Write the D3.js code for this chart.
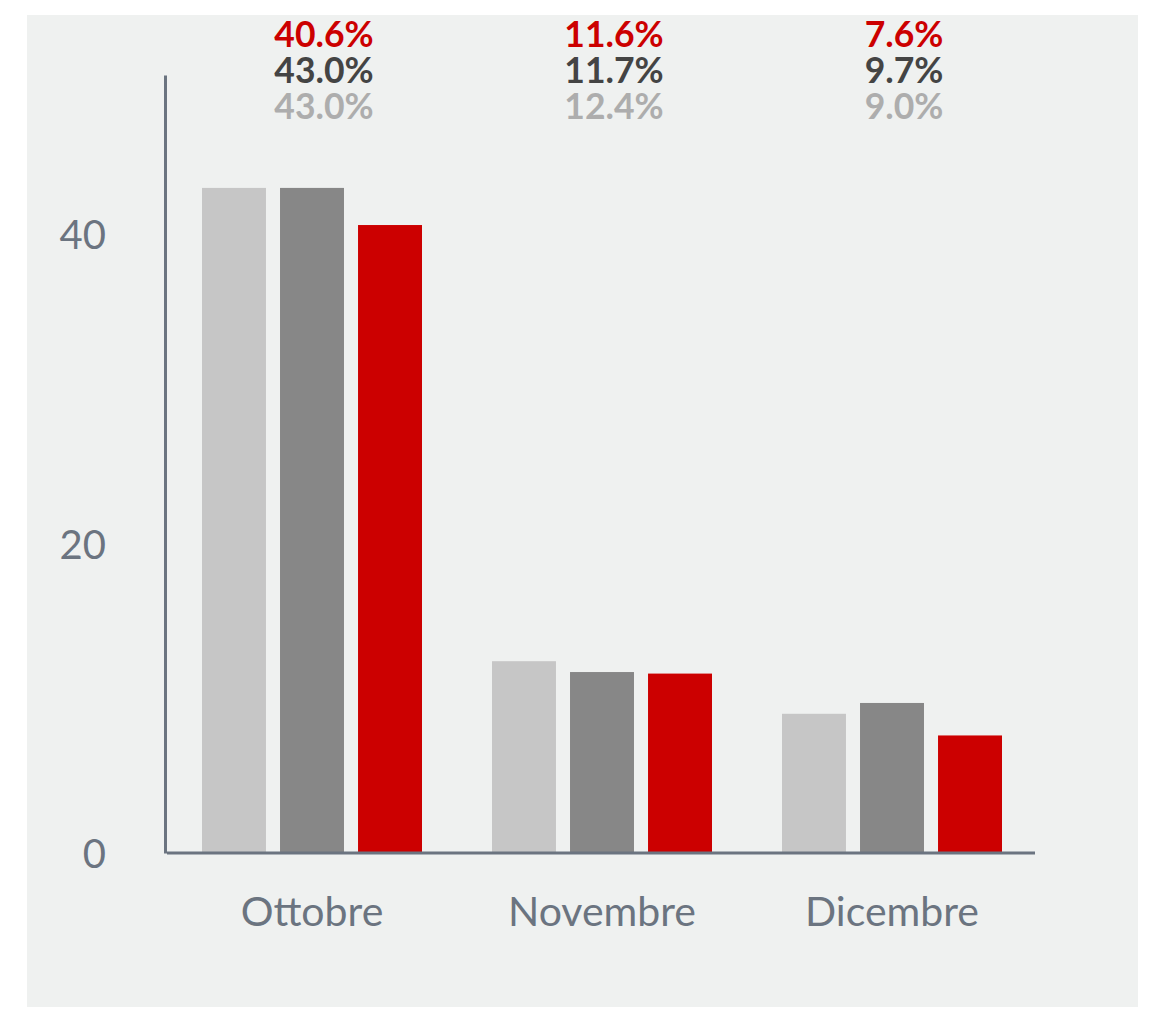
<!DOCTYPE html>
<html>
<head>
<meta charset="utf-8">
<script src="https://cdn.jsdelivr.net/npm/d3@7"></script>
<style>
  body { margin: 0; background: #fff; }
  svg { display: block; font-family: Lato, "Open Sans", sans-serif; }
</style>
</head>
<body>
<div class="canvas"></div>
<script>
// DATA
const months = ["Ottobre", "Novembre", "Dicembre"];
const seriesKeys = ["light", "dark", "red"];
const lightValues = [43.0, 12.4, 9.0];
const darkValues = [43.0, 11.7, 9.7];
const redValues = [40.6, 11.6, 7.6];
const yTicks = [0, 20, 40];

const barColor = { light: "#c6c6c6", dark: "#878787", red: "#cc0000" };
const labelColor = { light: "#adadad", dark: "#444444", red: "#cc0000" };

const rows = months.map((m, i) => ({
  month: m,
  light: lightValues[i],
  dark: darkValues[i],
  red: redValues[i]
}));

const svg = d3.select(".canvas")
  .append("svg")
    .attr("width", 1157)
    .attr("height", 1009);

// PANEL BACKGROUND
svg.append("rect")
  .attr("x", 27)
  .attr("y", 15)
  .attr("width", 1111)
  .attr("height", 992)
  .attr("fill", "#eff1f0");

// SCALES
const x0 = d3.scaleBand()
  .domain(months)
  .range([167, 1037])
  .paddingInner(0.2414)
  .paddingOuter(0.1207);

const x1 = d3.scaleBand()
  .domain(seriesKeys)
  .range([0, x0.bandwidth()])
  .paddingInner(0.18);

const y = d3.scaleLinear()
  .domain([0, 50.3])
  .range([853, 75]);

// BARS - one group per month
const groups = svg.selectAll("g.group")
  .data(rows)
  .enter()
    .append("g")
    .attr("class", "group")
    .attr("transform", d => `translate(${x0(d.month)}, 0)`);

groups.selectAll("rect")
  .data(d => seriesKeys.map(k => ({ key: k, value: d[k] })))
  .enter()
    .append("rect")
    .attr("x", d => x1(d.key))
    .attr("y", d => y(d.value))
    .attr("width", x1.bandwidth())
    .attr("height", d => y(0) - y(d.value))
    .attr("fill", d => barColor[d.key]);

// VALUE LABELS AT THE TOP - red, dark, light
const labelOrder = ["red", "dark", "light"];
groups.selectAll("text.val")
  .data(d => labelOrder.map((k, i) => ({ key: k, value: d[k], row: i })))
  .enter()
    .append("text")
    .attr("class", "val")
    .attr("x", x0.bandwidth() / 2 + 12)
    .attr("y", d => 47 + d.row * 36)
    .attr("text-anchor", "middle")
    .attr("fill", d => labelColor[d.key])
    .style("font-size", "35.5px")
    .style("font-weight", 700)
    .text(d => d.value.toFixed(1) + "%");

// Y AXIS
const yAxis = d3.axisLeft(y)
  .tickValues(yTicks)
  .tickSize(0)
  .tickPadding(59);

const yG = svg.append("g")
  .attr("transform", "translate(165, 0)")
  .call(yAxis);

yG.select(".domain")
  .attr("stroke", "#6b7480")
  .attr("stroke-width", 3);

yG.selectAll("text")
  .attr("fill", "#6b7480")
  .attr("dy", "0.36em")
  .style("font-size", "40px")
  .style("font-family", "Lato, sans-serif");

// X AXIS
const xAxis = d3.axisBottom(x0)
  .tickSize(0)
  .tickPadding(44);

const xG = svg.append("g")
  .attr("transform", `translate(0, ${y(0)})`)
  .call(xAxis);

xG.select(".domain")
  .attr("d", "M167,0H1035")
  .attr("stroke", "#6b7480")
  .attr("stroke-width", 3);

xG.selectAll("text")
  .attr("fill", "#6b7480")
  .style("font-size", "41px")
  .style("font-family", "Lato, sans-serif");
</script>
</body>
</html>
